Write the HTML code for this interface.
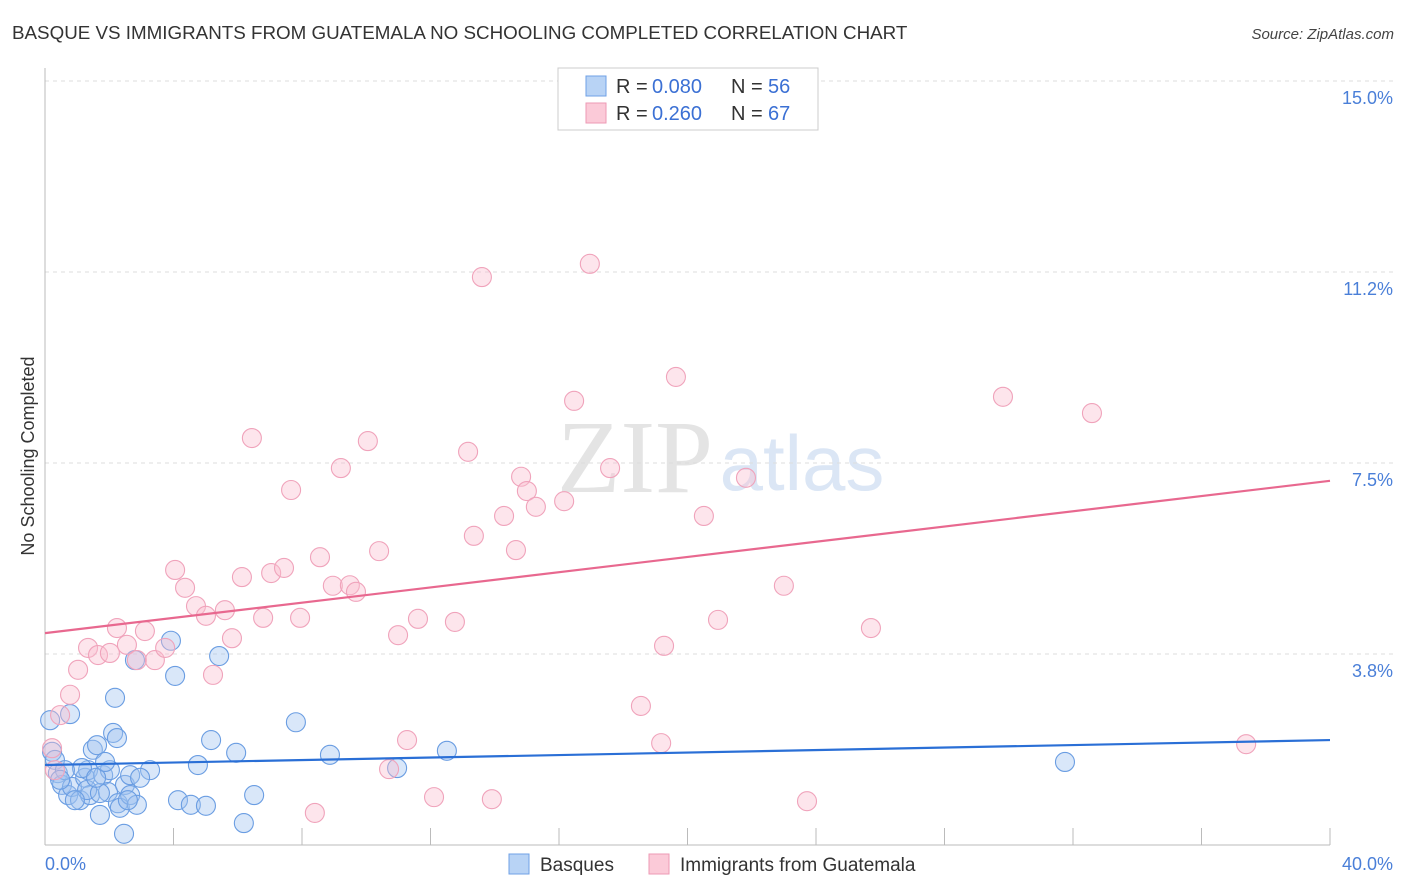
<!DOCTYPE html>
<html><head><meta charset="utf-8"><style>
body{margin:0;background:#fff;font-family:"Liberation Sans",sans-serif;}
svg{display:block}
</style></head><body>
<svg width="1406" height="892">
<text x="12" y="39" font-size="18.8" fill="#333">BASQUE VS IMMIGRANTS FROM GUATEMALA NO SCHOOLING COMPLETED CORRELATION CHART</text>
<text x="1394" y="39" font-size="15" fill="#444" font-style="italic" text-anchor="end">Source: ZipAtlas.com</text>
<text x="635" y="492" font-size="104" fill="#e4e4e4" font-family="Liberation Serif,serif" text-anchor="middle">ZIP</text>
<text x="802" y="490" font-size="78" fill="#dbe6f5" text-anchor="middle">atlas</text>
<g id="grid"></g>
<line x1="45" y1="68" x2="45" y2="845" stroke="#bbb"/>
<line x1="45" y1="845" x2="1330" y2="845" stroke="#bbb"/>
<g id="ticks"></g>
<text x="34" y="456" font-size="18" fill="#333" text-anchor="middle" transform="rotate(-90 34 456)">No Schooling Completed</text>
<text x="45" y="870" font-size="18" fill="#4a7fd8">0.0%</text>
<text x="1393" y="870" font-size="18" fill="#4a7fd8" text-anchor="end">40.0%</text>
<g id="pts"></g>
<g id="lines"></g>
<g>
<rect x="558" y="68" width="260" height="62" fill="#fff" stroke="#ccc"/>
<rect x="586" y="76" width="20" height="20" fill="#b8d3f5" stroke="#6fa0e6"/>
<rect x="586" y="103" width="20" height="20" fill="#fbcad8" stroke="#ee9ab5"/>
<text x="616" y="93" font-size="20" fill="#333">R =</text>
<text x="652" y="93" font-size="20" fill="#3b70d4">0.080</text>
<text x="731" y="93" font-size="20" fill="#333">N =</text>
<text x="768" y="93" font-size="20" fill="#3b70d4">56</text>
<text x="616" y="120" font-size="20" fill="#333">R =</text>
<text x="652" y="120" font-size="20" fill="#3b70d4">0.260</text>
<text x="731" y="120" font-size="20" fill="#333">N =</text>
<text x="768" y="120" font-size="20" fill="#3b70d4">67</text>
</g>
<g>
<rect x="509" y="854" width="20" height="20" fill="#b8d3f5" stroke="#6fa0e6"/>
<text x="540" y="871" font-size="19" fill="#333">Basques</text>
<rect x="649" y="854" width="20" height="20" fill="#fbcad8" stroke="#ee9ab5"/>
<text x="680" y="871" font-size="19" fill="#333">Immigrants from Guatemala</text>
</g>
</svg>
<script>
const yTicks=[3.75,7.5,11.25,15];
const yTickLabels=["3.8%","7.5%","11.2%","15.0%"];
const xTicks=[0,4,8,12,16,20,24,28,32,36,40];
const bluePx=[[50,720],[52,752],[55,760],[58,773],[62,785],[68,795],[72,787],[80,800],[85,778],[88,770],[90,795],[93,750],[97,745],[100,815],[103,775],[108,792],[110,770],[113,733],[117,738],[115,698],[118,803],[120,808],[125,785],[130,775],[130,795],[137,805],[124,834],[135,660],[150,770],[171,641],[175,676],[178,800],[191,805],[198,765],[206,806],[211,740],[219,656],[236,753],[244,823],[254,795],[296,722],[330,755],[397,768],[447,751],[1065,762],[70,714],[82,768],[87,790],[100,793],[65,770],[96,778],[128,800],[105,762],[75,800],[60,780],[140,778]];
const pinkPx=[[52,748],[55,770],[60,715],[70,695],[78,670],[88,648],[98,655],[110,653],[117,628],[127,645],[137,660],[145,631],[155,660],[165,648],[175,570],[185,588],[196,606],[206,616],[213,675],[225,610],[232,638],[242,577],[252,438],[263,618],[271,573],[284,568],[291,490],[300,618],[315,813],[320,557],[333,586],[341,468],[350,585],[356,592],[368,441],[379,551],[389,769],[398,635],[407,740],[418,619],[434,797],[455,622],[468,452],[474,536],[482,277],[492,799],[504,516],[516,550],[521,477],[527,491],[536,507],[564,501],[574,401],[590,264],[610,468],[641,706],[661,743],[664,646],[676,377],[704,516],[718,620],[746,478],[784,586],[807,801],[871,628],[1003,397],[1092,413],[1246,744]];
const basqueX=bluePx.map(p=>+((p[0]-45)/1285*40).toFixed(2));
const basqueY=bluePx.map(p=>+((845-p[1])/191*3.75).toFixed(2));
const guatX=pinkPx.map(p=>+((p[0]-45)/1285*40).toFixed(2));
const guatY=pinkPx.map(p=>+((845-p[1])/191*3.75).toFixed(2));
const blueTrend=[1.57,2.06];
const pinkTrend=[4.16,7.15];
const X=v=>45+v/40*1285, Y=v=>845-v/3.75*191;
const NS="http://www.w3.org/2000/svg";
function mk(t,a,parent){const e=document.createElementNS(NS,t);for(const k in a)e.setAttribute(k,a[k]);document.getElementById(parent).appendChild(e);return e;}
yTicks.forEach((v,i)=>{
 const l=mk('line',{x1:45,x2:1395,y1:Y(v),y2:Y(v),stroke:'#ddd','stroke-dasharray':'4,4'},'grid');
 
 
 const t=mk('text',{x:1393,y:Y(v)+23,'font-size':18,fill:'#4a7fd8','text-anchor':'end'},'grid');t.textContent=yTickLabels[i];
 
 
});
xTicks.forEach(v=>{
 const l=mk('line',{x1:X(v),x2:X(v),y1:828,y2:845,stroke:'#bbb'},'ticks');
 
 
});
basqueX.forEach((x,i)=>{
 const c=mk('circle',{cx:X(x),cy:Y(basqueY[i]),r:9.5,fill:'rgba(160,196,240,0.4)',stroke:'#6a9de2','stroke-width':1.1},'pts');
 
 
});
guatX.forEach((x,i)=>{
 const c=mk('circle',{cx:X(x),cy:Y(guatY[i]),r:9.5,fill:'rgba(250,190,208,0.4)',stroke:'#f0a3bb','stroke-width':1.1},'pts');
 
 
});
const bl=mk('line',{x1:X(0),y1:Y(blueTrend[0]),x2:X(40),y2:Y(blueTrend[1]),stroke:'#2a6fd6','stroke-width':2.2},'lines');


const pl=mk('line',{x1:X(0),y1:Y(pinkTrend[0]),x2:X(40),y2:Y(pinkTrend[1]),stroke:'#e8688f','stroke-width':2.2},'lines');


</script>
</body></html>
